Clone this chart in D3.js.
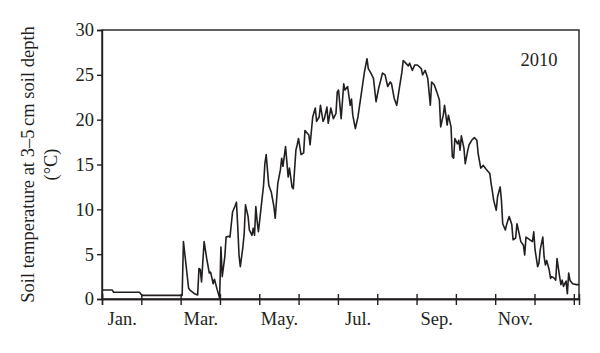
<!DOCTYPE html>
<html>
<head>
<meta charset="utf-8">
<script src="https://cdn.jsdelivr.net/npm/d3@7"></script>
<style>
  html, body { margin: 0; padding: 0; background: #fff; }
  svg { display: block; }
  .axis path, .axis line { stroke: #231f20; stroke-width: 1.4; }
  .axis text { font-family: "Liberation Serif", "Times New Roman", serif; font-size: 18.5px; fill: #231f20; }
</style>
</head>
<body>
<div id="chart"></div>
<script>
// day of year and soil temperature (°C)
const days = [0, 8, 9, 29, 31, 62, 63, 67, 68, 72, 74, 75, 76, 77, 79, 81, 83, 84, 86, 87, 89, 91,
  92, 93, 95, 96, 98, 99, 101, 103, 104, 105, 106, 107, 109, 110, 111, 113, 114, 116, 117, 118,
  119, 120, 121, 123, 125, 126, 127, 129, 130, 131, 133, 134, 136, 138, 139, 140, 142, 144, 145,
  147, 148, 150, 151, 152, 154, 156, 157, 160, 161, 163, 165, 166, 168, 169, 171, 172, 174, 175,
  177, 179, 181, 182, 183, 185, 187, 188, 190, 192, 193, 194, 196, 198, 201, 203, 205, 206, 208,
  210, 212, 214, 216, 217, 219, 221, 223, 224, 226, 228, 230, 232, 233, 235, 237, 238, 240, 242,
  244, 247, 248, 250, 252, 254, 255, 257, 259, 261, 262, 264, 265, 267, 268, 270, 271, 272, 273,
  275, 276, 277, 278, 280, 281, 283, 284, 286, 288, 290, 291, 293, 295, 297, 300, 301, 302, 303,
  305, 306, 308, 309, 310, 312, 313, 315, 317, 318, 320, 321, 323, 324, 326, 327, 328, 330, 331,
  333, 334, 335, 337, 338, 339, 341, 342, 343, 344, 346, 347, 348, 350, 351, 352, 354, 355, 356,
  357, 359, 360, 361, 362, 364, 367, 369];
const temps = [1.0, 1.0, 0.75, 0.75, 0.4, 0.4, 6.4, 1.2, 1.0, 0.55, 0.45, 3.4, 3.3, 1.9, 6.4, 4.5,
  2.9, 3.0, 1.7, 2.2, 1.1, 0.1,
  5.8, 2.5, 4.7, 6.9, 7.0, 6.9, 9.7, 10.4, 10.8, 8.1, 4.9, 3.6, 5.8, 7.3, 10.5, 9.2, 7.7, 7.1, 7.9, 7.1,
  10.3, 8.7, 7.5, 10.1, 12.7, 15.1, 16.1, 12.7, 12.3, 11.9, 10.3, 9.0, 12.9, 14.4, 15.7, 14.8, 17.0, 13.6, 14.6,
  12.5, 12.3, 16.6, 17.2, 17.9, 16.1, 16.3, 18.8, 18.3, 17.2, 20.3, 21.3, 19.8, 20.3, 21.6, 19.8, 20.1, 21.4, 19.6,
  21.3, 20.1, 20.7, 23.1, 23.3, 20.1, 24.0, 23.3, 23.7, 21.6, 22.3, 20.5, 19.0, 20.3, 23.3, 25.3, 26.8, 25.7, 25.2,
  24.6, 22.0, 23.5, 24.6, 25.2, 25.0, 23.7, 24.2, 24.0, 22.4, 21.6, 23.5, 25.3, 26.6, 26.3, 26.0, 26.3, 25.5, 26.1,
  26.1, 25.7, 25.0, 25.5, 24.6, 21.6, 24.2, 23.9, 23.1, 22.2, 19.2, 20.5, 21.6, 19.4, 20.5, 19.2, 15.9, 15.7, 17.9,
  17.3, 17.7, 16.6, 18.2, 16.8, 15.1, 16.6, 17.2, 17.7, 18.0, 17.7, 16.2, 14.6, 14.9, 14.5, 14.0, 12.9, 12.0, 11.0,
  9.9, 11.4, 12.5, 11.0, 8.4, 7.7, 8.3, 9.2, 8.3, 6.6, 6.8, 8.4, 7.1, 6.4, 6.0, 4.9, 6.9, 6.7, 6.6,
  6.4, 7.5, 5.5, 3.6, 4.0, 5.5, 6.9, 4.7, 3.8, 4.3, 3.2, 2.3, 2.5, 2.3, 2.1, 4.5, 2.5, 1.6, 2.1,
  1.4, 2.0, 0.6, 2.9, 2.1, 1.7, 1.6, 1.6];

const monthLabels = ["Jan.", "", "Mar.", "", "May.", "", "Jul.", "", "Sep.", "", "Nov.", ""];
const yTicks = [0, 5, 10, 15, 20, 25, 30];
const yearLabel = "2010";
const yTitle = ["Soil temperature at 3\u20135\u2009cm soil depth", "(\u00b0C)"];

const width = 600, height = 353;
const plotLeft = 102, plotRight = 579, plotTop = 30, plotBottom = 299;
const monthLen = 365 / 12;

const svg = d3.select("#chart").append("svg")
  .attr("width", width)
  .attr("height", height);

const x = d3.scaleLinear().domain([0, 369]).range([plotLeft, plotRight]);
const y = d3.scaleLinear().domain([0, 30]).range([plotBottom, plotTop]);

const monthStarts = d3.range(13).map(i => i * monthLen);
const monthMids = d3.range(12).map(i => (i + 0.5) * monthLen);

// frame
svg.append("rect")
  .attr("x", x(0)).attr("y", y(30))
  .attr("width", x(369) - x(0)).attr("height", y(0) - y(30))
  .attr("fill", "none")
  .attr("stroke", "#231f20")
  .attr("stroke-width", 1.4);

// y axis
svg.append("g")
  .attr("class", "axis")
  .attr("transform", `translate(${plotLeft},0)`)
  .call(d3.axisLeft(y).tickValues(yTicks).tickSize(5).tickPadding(3));

// x axis: ticks cross the baseline
svg.append("g")
  .attr("class", "axis")
  .attr("transform", `translate(0,${plotBottom})`)
  .call(d3.axisBottom(x).tickValues(monthStarts).tickSize(6).tickFormat(""));
svg.append("g")
  .attr("class", "axis")
  .attr("transform", `translate(0,${plotBottom})`)
  .call(d3.axisBottom(x).tickValues(monthStarts).tickSize(-5).tickFormat(""));
svg.append("g")
  .attr("class", "axis")
  .attr("transform", `translate(0,${plotBottom})`)
  .call(d3.axisBottom(x).tickValues(monthMids).tickSize(0).tickPadding(13)
    .tickFormat((d, i) => monthLabels[i]))
  .call(g => g.select(".domain").remove());

// line
const line = d3.line()
  .x((d, i) => x(days[i]))
  .y(d => y(d));

svg.append("path")
  .datum(temps)
  .attr("fill", "none")
  .attr("stroke", "#231f20")
  .attr("stroke-width", 1.6)
  .attr("stroke-linejoin", "round")
  .attr("d", line);

// year tag
svg.append("text")
  .attr("x", 539)
  .attr("y", 66)
  .attr("text-anchor", "middle")
  .style("font-family", "'Liberation Serif', serif")
  .style("font-size", "18.5px")
  .style("fill", "#231f20")
  .text(yearLabel);

// y title, two lines
const cy = (plotTop + plotBottom) / 2;
yTitle.forEach((t, i) => {
  svg.append("text")
    .attr("transform", `translate(${34 + i * 23},${cy}) rotate(-90)`)
    .attr("text-anchor", "middle")
    .style("font-family", "'Liberation Serif', serif")
    .style("font-size", "18.5px")
    .style("fill", "#231f20")
    .text(t);
});
</script>
</body>
</html>
